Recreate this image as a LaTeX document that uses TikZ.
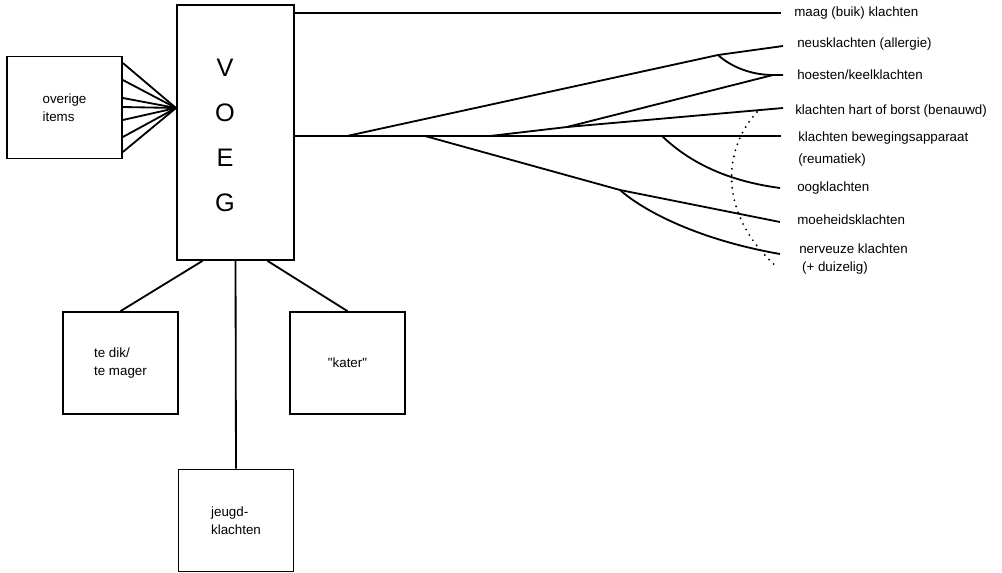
\documentclass[tikz,border=0pt]{standalone}
\usepackage{fontspec}
\setmainfont{Liberation Sans}[Ligatures=TeXOff]
\usepackage{tikz}
\usetikzlibrary{positioning, calc}

\tikzset{
    itembox/.style={draw, line width=1.2pt, minimum width=2.875cm, minimum height=2.55cm,
                    inner sep=0pt, align=left, font=\fontsize{9.5}{12.5}\selectfont},
    bigbox/.style={draw, line width=1.2pt, minimum width=2.925cm, minimum height=6.375cm, inner sep=0pt},
    voegletters/.style={inner sep=0pt, align=center, font=\fontsize{18}{32}\selectfont},
    klabel/.style={anchor=west, inner sep=0pt, align=left, font=\fontsize{9.5}{12}\selectfont},
    conn/.style={line width=1.3pt},
    dotarc/.style={line width=1.5pt, line cap=round, dash pattern=on 0pt off 4.5pt}
}

\begin{document}
\begin{tikzpicture}[x=0.025cm, y=-0.025cm]
    \useasboundingbox (0,0) rectangle (1002,573);

    % boxes
    \node[bigbox] (voeg) at (235.5,132.5) {};
    \node[voegletters] (voegtxt) at (225,135) {V\\O\\E\\G};
    \node[itembox] (overig) at (64.5,107.5) {overige\\items};
    \node[itembox] (tedik) at (120.5,363) {te dik/\\te mager};
    \node[itembox] (kater) at (347.5,363) {"kater"};
    \node[itembox] (jeugd) at (236,520.5) {jeugd-\\klachten};

    % complaint labels
    \node[klabel] (maag) at (794,13) {maag (buik) klachten};
    \node[klabel] (neus) at (797,44) {neusklachten (allergie)};
    \node[klabel] (hoest) at (797,75) {hoesten/keelklachten};
    \node[klabel] (hart) at (795,111) {klachten hart of borst (benauwd)};
    \node[klabel, font=\fontsize{9.5}{15.6}\selectfont] (beweg) at (798,149) {klachten bewegingsapparaat\\(reumatiek)};
    \node[klabel] (oog) at (797,188) {oogklachten};
    \node[klabel] (moe) at (797,220) {moeheidsklachten};
    \node[klabel, font=\fontsize{9.5}{13}\selectfont] (nerv) at (799,259) {nerveuze klachten\\\hspace{2pt}(+ duizelig)};

    % line ends and forks
    \coordinate (e-maag) at (781,13);
    \coordinate (e-neus) at (783,46);
    \coordinate (e-hoest) at (783,75);
    \coordinate (e-hart) at (783,108);
    \coordinate (e-beweg) at (781,136);
    \coordinate (e-oog) at (780,188);
    \coordinate (e-moe) at (780,222);
    \coordinate (e-nerv) at (780,254);
    \coordinate (s1) at (347,136);
    \coordinate (s2) at (425,136);
    \coordinate (s3) at (490,136);
    \coordinate (s4) at (662,136);
    \coordinate (k1) at (718,55);
    \coordinate (k2) at (567,127);
    \coordinate (k3) at (620,190);
    \coordinate (kh) at (773,75);
    \coordinate (fan) at (176,108);
    \coordinate (arctop) at (757,112);
    \coordinate (arcbot) at (778,268);

    \foreach \dy in {-44.5,-27.5,-9.5,-0.5,12.5,29.5,44.5}
        \draw[conn] (overig.east) ++(0,\dy) -- (fan);

    \draw[conn] (voeg.east |- e-maag) -- (e-maag);
    \draw[conn] (voeg.east |- e-beweg) -- (e-beweg);

    \draw[conn] (s1) -- (k1) -- (e-neus);
    \draw[conn] (k1) .. controls (730,66) and (750,75) .. (kh) -- (e-hoest);
    \draw[conn] (s3) -- (k2) -- (kh);
    \draw[conn] (k2) -- (e-hart);
    \draw[conn] (s2) -- (k3) -- (e-moe);
    \draw[conn] (k3) .. controls (645,212) and (700,240) .. (e-nerv);
    \draw[conn] (s4) .. controls (685,158) and (720,180) .. (e-oog);
    \draw[dotarc] (arctop) .. controls (722,150) and (718,215) .. (arcbot);

    \draw[conn] ($(voeg.south)+(-33,0)$) -- (tedik.north);
    \draw[conn] (voeg.south) -- (jeugd.north);
    \draw[conn] ($(voeg.south)+(32,0)$) -- (kater.north);
\end{tikzpicture}
\end{document}
